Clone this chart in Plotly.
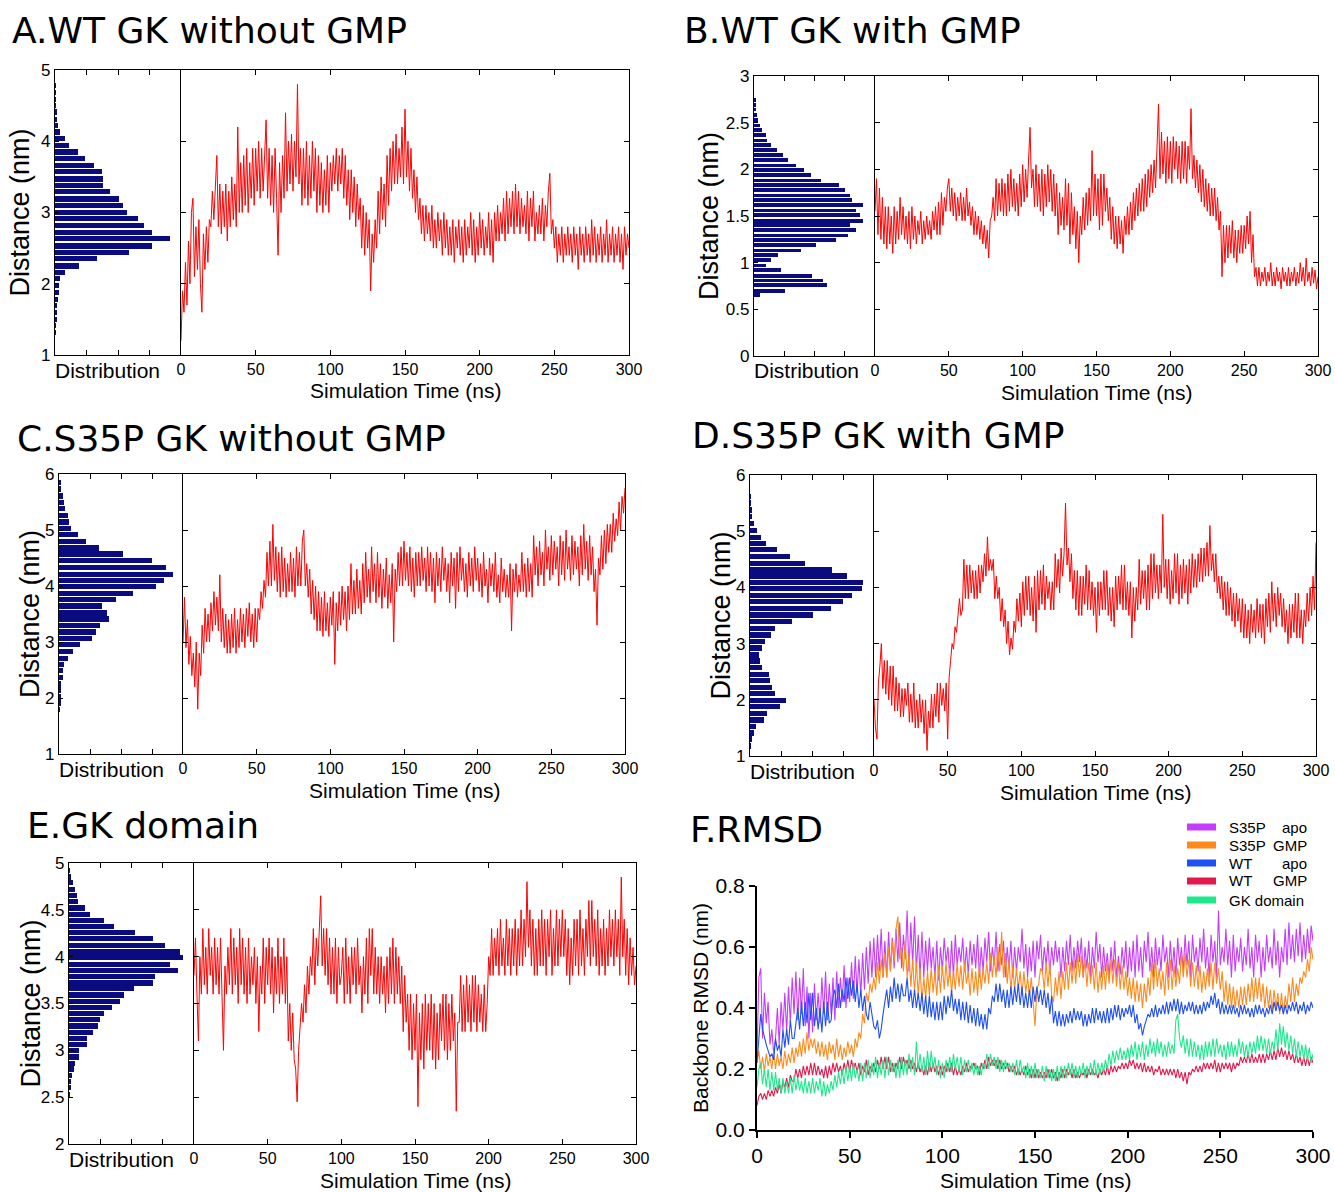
import plotly.graph_objects as go

W, H = 1335, 1192

# ---------------- DATA ----------------
time_ns = list(range(0, 301))          # all traces sampled every 1 ns

# Panel A: WT GK without GMP
a_bins = [4.78, 4.69, 4.59, 4.50, 4.41, 4.31, 4.22, 4.13, 4.04, 3.94, 3.85, 3.76, 3.66, 3.57, 3.47, 3.38,
          3.29, 3.19, 3.10, 3.00, 2.91, 2.82, 2.72, 2.63, 2.53, 2.44, 2.35, 2.25, 2.16, 2.07, 1.97, 1.88,
          1.78, 1.69, 1.60, 1.50, 1.41, 1.32]
a_counts = [0.3, 0.4, 0.5, 0.7, 0.9, 1.5, 2, 4, 8, 11, 18, 24, 31, 37, 38, 38,
            44, 51, 54, 57, 66, 71, 77, 91, 77, 59, 33, 19, 8, 4, 3, 3,
            2, 1.5, 1, 0.8, 0.6, 0.4]
a_dist = [1.2, 1.9, 1.6, 2.3, 1.7, 2.6, 2.0, 3.0, 3.2, 2.1,
          2.8, 2.2, 2.9, 2.0, 1.6, 2.7, 2.2, 2.8, 2.3, 2.9,
          2.8, 3.3, 2.9, 3.5, 3.8, 2.8, 3.4, 2.7, 3.3, 2.8,
          3.4, 2.6, 3.3, 2.8, 3.5, 2.9, 3.4, 2.8, 4.2, 3.0,
          3.7, 3.0, 3.8, 3.1, 3.9, 3.0, 3.7, 3.2, 3.9, 3.1,
          3.9, 3.3, 4.0, 3.2, 3.9, 3.3, 3.8, 4.3, 3.2, 3.9,
          3.1, 3.8, 3.0, 3.9, 3.2, 2.4, 3.7, 3.0, 3.8, 3.2,
          4.4, 3.3, 4.0, 3.4, 4.1, 3.3, 4.0, 3.5, 4.8, 3.4,
          3.9, 3.1, 3.9, 3.2, 4.0, 3.1, 3.8, 3.2, 4.0, 3.3,
          3.9, 3.0, 3.8, 3.1, 3.7, 3.0, 3.6, 3.1, 3.8, 3.0,
          3.7, 3.3, 3.8, 3.4, 3.9, 3.3, 3.8, 3.4, 3.9, 3.2,
          3.8, 3.1, 3.6, 2.9, 3.6, 3.0, 3.5, 2.8, 3.4, 2.9,
          3.2, 2.5, 3.1, 2.4, 3.0, 2.5, 2.9, 1.9, 2.7, 2.3,
          2.9, 2.5, 3.3, 2.7, 3.5, 2.9, 3.4, 2.8, 3.8, 3.1,
          3.9, 3.3, 4.0, 3.4, 4.1, 3.4, 3.9, 3.5, 4.2, 3.4,
          4.45, 3.5, 4.0, 3.3, 3.9, 3.2, 3.6, 3.0, 3.5, 2.9,
          3.2, 2.7, 3.1, 2.6, 3.1, 2.7, 3.0, 2.6, 3.1, 2.5,
          2.9, 2.5, 3.0, 2.6, 2.9, 2.4, 3.0, 2.5, 2.9, 2.4,
          2.8, 2.4, 2.9, 2.3, 2.8, 2.5, 2.9, 2.4, 2.8, 2.3,
          2.9, 2.4, 2.8, 2.5, 3.0, 2.4, 2.9, 2.3, 2.8, 2.4,
          3.0, 2.5, 2.9, 2.4, 2.8, 2.5, 3.0, 2.4, 2.9, 2.3,
          3.0, 2.6, 3.1, 2.6, 3.0, 2.7, 3.2, 2.6, 3.3, 2.7,
          3.2, 2.8, 3.3, 2.7, 3.4, 2.8, 3.3, 2.7, 3.2, 2.8,
          3.1, 2.7, 3.3, 2.6, 3.2, 2.8, 3.3, 2.6, 3.0, 2.7,
          3.1, 2.7, 3.2, 2.6, 3.1, 2.8, 3.3, 3.55, 2.7, 2.9,
          2.5, 2.8, 2.3, 2.7, 2.4, 2.8, 2.3, 2.7, 2.4, 2.8,
          2.4, 2.7, 2.3, 2.8, 2.4, 2.7, 2.2, 2.8, 2.4, 2.7,
          2.3, 2.8, 2.4, 2.7, 2.3, 2.9, 2.4, 2.8, 2.3, 2.7,
          2.4, 2.8, 2.3, 2.7, 2.4, 2.9, 2.3, 2.7, 2.4, 2.8,
          2.3, 2.7, 2.4, 2.8, 2.3, 2.7, 2.2, 2.8, 2.4, 2.7,
          2.5]

# Panel B: WT GK with GMP
b_bins = [2.74, 2.69, 2.64, 2.58, 2.53, 2.47, 2.42, 2.37, 2.31, 2.26, 2.21, 2.15, 2.10, 2.04, 1.99, 1.94,
          1.88, 1.83, 1.78, 1.72, 1.67, 1.62, 1.56, 1.51, 1.45, 1.40, 1.35, 1.29, 1.24, 1.19, 1.13, 1.08,
          1.03, 0.97, 0.92, 0.86, 0.81, 0.76, 0.70, 0.65]
b_counts = [1, 1, 1.5, 2.5, 3.5, 5, 6.5, 10, 11, 14, 19, 24, 28, 35, 41, 47,
            55, 70, 75, 79, 81, 90, 84, 88, 90, 79, 84, 78, 68, 51, 39, 20,
            14, 10, 22, 48, 57, 60, 26, 5]
b_dist = [1.55, 1.9, 1.3, 1.8, 1.25, 1.7, 1.2, 1.6, 1.15, 1.6,
          1.2, 1.5, 1.1, 1.6, 1.2, 1.55, 1.25, 1.7, 1.3, 1.6,
          1.25, 1.5, 1.2, 1.55, 1.15, 1.6, 1.25, 1.5, 1.2, 1.45,
          1.3, 1.55, 1.2, 1.45, 1.25, 1.5, 1.3, 1.45, 1.25, 1.55,
          1.35, 1.6, 1.3, 1.65, 1.3, 1.75, 1.4, 1.7, 1.55, 1.8,
          1.9, 1.55, 1.8, 1.5, 1.75, 1.45, 1.7, 1.5, 1.75, 1.45,
          1.7, 1.45, 1.8, 1.5, 1.65, 1.4, 1.6, 1.3, 1.55, 1.3,
          1.5, 1.25, 1.45, 1.2, 1.4, 1.15, 1.35, 1.05, 1.45, 1.5,
          1.7, 1.45, 1.9, 1.5, 1.85, 1.55, 1.9, 1.5, 1.85, 1.5,
          1.95, 1.55, 2.0, 1.6, 1.9, 1.55, 1.85, 1.5, 1.95, 1.6,
          2.05, 1.65, 2.0, 1.7, 2.1, 2.45, 1.8, 2.0, 1.6, 2.05,
          1.6, 1.95, 1.55, 2.0, 1.5, 1.95, 1.6, 2.05, 1.65, 2.0,
          1.55, 1.95, 1.5, 1.85, 1.3, 1.75, 1.4, 1.7, 1.35, 1.9,
          1.4, 1.85, 1.2, 1.75, 1.3, 1.6, 1.15, 1.55, 1.0, 1.5,
          1.3, 1.7, 1.35, 1.75, 1.4, 1.8, 1.45, 2.2, 1.5, 1.95,
          1.5, 1.9, 1.35, 1.95, 1.4, 1.95, 1.55, 1.8, 1.45, 1.7,
          1.25, 1.6, 1.2, 1.5, 1.15, 1.5, 1.2, 1.45, 1.1, 1.5,
          1.3, 1.6, 1.3, 1.65, 1.35, 1.75, 1.45, 1.8, 1.5, 1.85,
          1.55, 1.9, 1.55, 1.95, 1.6, 2.0, 1.7, 2.05, 1.75, 2.1,
          1.8, 2.2, 2.7, 1.9, 2.4, 1.95, 2.3, 1.85, 2.35, 1.9,
          2.3, 1.85, 2.35, 2.0, 2.3, 1.9, 2.25, 1.85, 2.3, 1.9,
          2.3, 1.85, 2.25, 2.0, 2.65, 1.9, 2.15, 1.8, 2.1, 1.75,
          2.05, 1.65, 2.0, 1.6, 1.9, 1.55, 1.85, 1.5, 1.8, 1.5,
          1.8, 1.45, 1.7, 1.35, 1.55, 0.85, 1.4, 1.0, 1.4, 1.05,
          1.4, 1.1, 1.45, 1.05, 1.35, 1.0, 1.35, 1.1, 1.4, 1.1,
          1.4, 1.15, 1.5, 1.2, 1.55, 1.0, 1.3, 0.85, 0.95, 0.75,
          0.95, 0.75, 0.9, 0.8, 0.95, 0.75, 0.9, 0.8, 1.0, 0.75,
          0.9, 0.75, 0.95, 0.8, 0.9, 0.72, 0.95, 0.8, 0.9, 0.75,
          0.95, 0.75, 0.9, 0.8, 0.95, 0.75, 0.9, 0.78, 1.0, 0.8,
          0.95, 0.75, 1.05, 0.8, 0.9, 0.75, 0.95, 0.78, 0.92, 0.72,
          0.85]

# Panel C: S35P GK without GMP
c_bins = [5.85, 5.73, 5.61, 5.49, 5.38, 5.26, 5.14, 5.03, 4.92, 4.80, 4.68, 4.57, 4.45, 4.33, 4.21, 4.10,
          3.99, 3.87, 3.76, 3.64, 3.52, 3.41, 3.29, 3.18, 3.06, 2.95, 2.83, 2.71, 2.60, 2.49, 2.37, 2.25,
          2.14, 2.02, 1.91, 1.79]
c_counts = [1, 2, 3, 4, 5, 7, 8, 10, 15, 22, 32, 52, 75, 86, 92, 85,
            78, 60, 46, 35, 39, 40, 33, 30, 27, 17, 11, 7, 4, 3, 3, 2,
            2, 1.5, 1, 0.8]
c_dist = [3.0, 3.8, 2.9, 3.4, 2.6, 3.1, 2.4, 2.8, 2.2, 3.0,
          1.8, 2.8, 2.4, 3.3, 2.8, 3.6, 3.0, 3.5, 3.0, 3.7,
          3.2, 3.9, 3.3, 3.8, 3.2, 4.2, 3.0, 3.6, 2.9, 3.5,
          2.8, 3.4, 2.8, 3.5, 2.9, 3.6, 2.8, 3.4, 2.9, 3.6,
          3.0, 3.5, 2.9, 3.6, 3.1, 3.7, 3.0, 3.5, 2.9, 3.6,
          3.0, 3.6, 3.4, 3.9, 3.6, 4.1, 3.8, 4.6, 4.0, 4.8,
          4.0, 5.1, 4.1, 4.7, 3.9, 4.6, 3.8, 4.7, 3.9, 4.5,
          3.8, 4.4, 3.9, 4.6, 3.9, 4.5, 3.8, 4.7, 4.0, 4.6,
          4.0, 4.8, 5.0, 4.0, 4.4, 3.8, 4.3, 3.5, 4.1, 3.4,
          4.0, 3.2, 3.9, 3.2, 3.8, 3.1, 3.9, 3.2, 3.7, 3.1,
          3.8, 3.3, 3.9, 2.6, 3.7, 3.2, 3.9, 3.3, 4.0, 3.4,
          3.9, 3.2, 4.0, 3.4, 4.4, 3.5, 4.1, 3.5, 4.3, 3.6,
          4.1, 3.5, 4.4, 3.7, 4.6, 3.8, 4.3, 3.7, 4.7, 3.9,
          4.4, 3.7, 4.6, 3.8, 4.4, 3.6, 4.3, 3.8, 4.5, 3.6,
          4.2, 3.7, 4.4, 3.0, 4.3, 3.9, 4.6, 4.0, 4.7, 4.0,
          4.8, 4.1, 4.6, 4.0, 4.7, 3.9, 4.5, 3.8, 4.6, 4.0,
          4.6, 4.0, 4.7, 4.1, 4.5, 3.9, 4.7, 4.0, 4.6, 3.9,
          4.5, 3.7, 4.6, 4.0, 4.5, 3.9, 4.7, 4.1, 4.5, 3.9,
          4.4, 3.7, 4.6, 4.0, 4.5, 3.6, 4.6, 3.9, 4.7, 4.1,
          4.5, 3.9, 4.4, 3.8, 4.6, 4.0, 4.5, 3.9, 4.7, 4.1,
          4.5, 3.9, 4.4, 3.8, 4.6, 4.0, 4.3, 3.7, 4.5, 4.0,
          4.4, 3.9, 4.6, 3.8, 4.2, 3.7, 4.5, 3.9, 4.3, 3.8,
          4.2, 3.8, 4.4, 3.2, 4.3, 3.9, 4.4, 3.8, 4.2, 3.9,
          4.6, 3.9, 4.4, 3.8, 4.5, 3.9, 4.4, 3.8, 4.9, 4.2,
          4.7, 4.0, 4.8, 4.2, 4.6, 4.0, 5.0, 4.3, 4.7, 4.1,
          4.9, 4.2, 4.8, 4.3, 4.7, 4.0, 4.9, 4.2, 4.8, 4.1,
          5.0, 4.3, 4.7, 4.1, 4.9, 4.2, 4.8, 4.3, 4.7, 4.0,
          4.9, 4.2, 5.1, 4.3, 4.8, 4.1, 4.9, 4.2, 4.7, 3.9,
          4.3, 3.3, 4.5, 4.2, 4.9, 4.3, 5.0, 4.4, 5.1, 4.6,
          5.1, 4.6, 5.3, 4.8, 5.2, 4.9, 5.5, 5.0, 5.6, 5.3,
          5.75]

# Panel D: S35P GK with GMP
d_bins = [5.62, 5.50, 5.38, 5.26, 5.14, 5.01, 4.89, 4.78, 4.67, 4.55, 4.43, 4.31, 4.20, 4.09, 3.98, 3.86,
          3.75, 3.63, 3.51, 3.39, 3.27, 3.15, 3.04, 2.92, 2.80, 2.69, 2.57, 2.45, 2.34, 2.22, 2.11, 1.99,
          1.88, 1.76, 1.64, 1.53, 1.41, 1.30, 1.18]
d_counts = [0.5, 0.8, 1, 2, 3, 6, 9, 13, 22, 32, 44, 66, 78, 91, 90, 82,
            75, 65, 51, 34, 20, 17, 12, 10, 7, 8, 10, 15, 16, 18, 20, 29,
            24, 14, 11, 5, 3, 1.5, 0.8]
d_dist = [2.0, 1.5, 1.3, 2.3, 2.6, 3.0, 2.2, 2.7, 2.1, 2.7,
          2.0, 2.6, 1.9, 2.6, 1.8, 2.4, 1.8, 2.3, 1.7, 2.2,
          1.7, 2.2, 1.9, 2.3, 1.6, 2.1, 1.6, 2.3, 1.5, 2.0,
          1.5, 2.1, 1.6, 2.0, 1.4, 2.0, 1.1, 1.8, 1.5, 2.1,
          1.5, 2.1, 1.7, 2.3, 1.6, 2.3, 1.9, 2.2, 1.8, 2.3,
          1.3, 2.4, 2.7, 3.0, 2.9, 3.3, 3.2, 3.6, 3.8, 3.5,
          3.6, 4.5, 3.8, 4.4, 3.8, 4.4, 3.9, 4.3, 3.8, 4.3,
          3.8, 4.4, 3.9, 4.4, 4.1, 4.6, 4.2, 4.9, 4.3, 4.5,
          4.3, 4.5, 3.8, 4.2, 3.8, 4.0, 3.4, 3.8, 3.3, 3.6,
          3.0, 3.4, 2.8, 3.1, 2.9, 3.4, 3.2, 3.8, 3.4, 3.9,
          3.3, 4.1, 3.5, 4.2, 3.6, 4.2, 3.5, 4.0, 3.4, 4.2,
          3.2, 4.3, 3.6, 4.3, 3.7, 4.4, 3.6, 4.2, 3.8, 4.1,
          3.6, 4.1, 3.6, 4.6, 4.0, 4.5, 3.9, 4.7, 4.2, 4.6,
          5.5, 4.4, 4.7, 4.1, 4.6, 3.8, 4.3, 3.6, 4.3, 3.5,
          4.2, 3.5, 4.2, 3.7, 4.4, 3.6, 4.3, 3.6, 4.1, 3.5,
          4.0, 3.2, 4.1, 3.5, 4.1, 3.6, 4.3, 3.6, 4.3, 3.5,
          4.0, 3.4, 4.0, 3.3, 4.2, 3.6, 4.2, 3.7, 4.4, 3.6,
          4.4, 3.6, 4.1, 3.5, 4.1, 3.1, 4.0, 3.4, 4.0, 3.6,
          4.5, 3.7, 4.3, 3.8, 4.3, 3.6, 4.4, 3.6, 4.6, 3.8,
          4.6, 3.9, 4.4, 3.8, 4.4, 3.9, 5.3, 4.0, 4.5, 3.8,
          4.5, 3.7, 4.3, 3.8, 4.6, 3.9, 4.6, 3.7, 4.4, 3.8,
          4.5, 3.9, 4.4, 3.7, 4.5, 3.9, 4.6, 4.0, 4.5, 4.0,
          4.6, 4.1, 4.7, 4.1, 4.7, 4.2, 4.8, 4.2, 5.1, 4.3,
          4.6, 4.1, 4.6, 3.9, 4.2, 3.8, 4.2, 3.6, 4.1, 3.5,
          4.1, 3.5, 4.0, 3.4, 3.9, 3.3, 3.9, 3.4, 3.8, 3.2,
          3.8, 3.1, 3.7, 3.1, 3.6, 3.0, 3.7, 3.2, 3.6, 3.1,
          3.8, 3.2, 3.7, 3.1, 3.7, 3.0, 3.8, 3.3, 3.9, 3.2,
          4.1, 3.4, 3.9, 3.3, 4.0, 3.5, 3.9, 3.3, 3.8, 3.2,
          3.6, 3.0, 3.7, 3.1, 3.7, 3.2, 3.9, 3.1, 3.9, 3.1,
          3.6, 3.0, 3.6, 3.3, 3.9, 3.4, 4.0, 3.5, 4.2, 3.6,
          4.8]

# Panel E: GK domain
e_bins = [4.92, 4.85, 4.79, 4.72, 4.65, 4.59, 4.52, 4.45, 4.39, 4.32, 4.26, 4.19, 4.12, 4.05, 3.99, 3.92,
          3.85, 3.79, 3.72, 3.66, 3.59, 3.52, 3.46, 3.39, 3.33, 3.26, 3.19, 3.13, 3.06, 3.00, 2.93, 2.86,
          2.80, 2.73, 2.67, 2.60, 2.53]
e_counts = [0.5, 1, 3, 5, 6, 7, 13, 17, 28, 36, 53, 67, 77, 89, 91, 81,
            87, 69, 67, 52, 44, 41, 34, 28, 25, 23, 19, 14, 14, 8, 8, 5,
            4, 2.5, 1.5, 1, 0.5]
e_dist = [3.8, 4.2, 3.6, 3.1, 4.0, 3.6, 4.3, 3.7, 4.1, 3.6,
          4.3, 3.8, 4.1, 3.6, 4.2, 3.7, 4.1, 3.6, 4.2, 3.7,
          3.0, 3.9, 3.6, 4.1, 3.7, 4.3, 3.6, 4.2, 3.7, 4.1,
          3.5, 4.3, 3.7, 4.2, 3.6, 4.1, 3.5, 4.2, 3.6, 4.0,
          3.7, 4.1, 3.5, 4.0, 3.2, 3.9, 3.6, 4.2, 3.5, 4.1,
          3.7, 4.2, 3.6, 4.1, 3.4, 4.0, 3.6, 4.2, 3.5, 4.0,
          3.6, 4.2, 3.5, 4.0, 3.1, 3.5, 3.0, 3.4, 2.9, 2.8,
          2.45, 3.0, 3.2, 3.5, 3.3, 3.7, 3.4, 3.9, 3.6, 4.0,
          3.8, 4.3, 3.7, 4.2, 3.9, 4.4, 4.65, 3.9, 4.3, 3.8,
          4.3, 3.7, 4.2, 3.6, 4.1, 3.6, 4.2, 3.5, 4.1, 3.7,
          3.8, 4.1, 3.5, 4.2, 3.6, 4.0, 3.5, 4.1, 3.7, 4.1,
          3.6, 4.2, 3.7, 3.9, 3.4, 4.0, 3.6, 4.2, 3.5, 4.3,
          3.8, 4.3, 3.6, 4.1, 3.6, 4.0, 3.5, 4.0, 3.6, 3.9,
          3.4, 4.0, 3.5, 4.1, 3.6, 4.2, 3.5, 4.1, 3.6, 4.0,
          3.5, 3.9, 3.2, 3.8, 3.3, 3.6, 3.0, 3.6, 2.9, 3.5,
          3.0, 3.6, 2.4, 3.4, 2.9, 3.5, 2.8, 3.6, 3.0, 3.5,
          3.0, 3.6, 2.9, 3.5, 2.8, 3.4, 2.9, 3.5, 3.1, 3.6,
          3.0, 3.6, 2.9, 3.5, 3.0, 3.6, 3.1, 3.4, 2.35, 3.3,
          3.3, 3.8, 3.2, 3.7, 3.2, 3.8, 3.3, 3.7, 3.2, 3.8,
          3.3, 3.8, 3.2, 3.7, 3.3, 3.6, 3.2, 3.7, 3.2, 3.5,
          4.0, 3.8, 4.3, 3.8, 4.2, 3.9, 4.3, 3.8, 4.4, 3.9,
          4.2, 3.8, 4.4, 3.9, 4.3, 3.8, 4.3, 3.9, 4.4, 3.8,
          4.3, 3.9, 4.5, 3.9, 4.4, 4.0, 4.8, 4.1, 4.5, 3.9,
          4.4, 3.8, 4.3, 3.8, 4.4, 3.9, 4.5, 3.9, 4.4, 3.8,
          4.4, 4.0, 4.5, 3.8, 4.3, 3.9, 4.5, 3.9, 4.4, 4.0,
          4.5, 4.0, 4.4, 3.8, 4.3, 3.7, 4.2, 3.8, 4.4, 3.9,
          4.4, 3.8, 4.5, 3.9, 4.3, 3.8, 4.4, 4.0, 4.6, 3.9,
          4.6, 4.0, 4.4, 3.9, 4.5, 3.8, 4.3, 3.9, 4.4, 3.8,
          4.3, 3.9, 4.5, 4.0, 4.4, 3.9, 4.5, 4.0, 4.4, 3.8,
          4.85, 4.0, 4.4, 3.8, 4.3, 3.7, 4.2, 3.8, 4.1, 3.7,
          3.9]

# Panel F: backbone RMSD (nm)
rmsd_names = ["S35P apo", "S35P GMP", "WT apo", "WT GMP", "GK domain"]
rmsd_s35p_apo = [0.25, 0.5, 0.53, 0.3, 0.45, 0.35, 0.42, 0.28, 0.33, 0.25,
                 0.3, 0.4, 0.28, 0.42, 0.33, 0.45, 0.32, 0.47, 0.35, 0.5,
                 0.38, 0.52, 0.36, 0.5, 0.38, 0.53, 0.34, 0.47, 0.3, 0.45,
                 0.32, 0.48, 0.36, 0.45, 0.35, 0.5, 0.38, 0.52, 0.36, 0.48,
                 0.38, 0.5, 0.36, 0.52, 0.4, 0.5, 0.42, 0.54, 0.4, 0.5,
                 0.42, 0.55, 0.43, 0.57, 0.45, 0.56, 0.44, 0.58, 0.46, 0.6,
                 0.48, 0.62, 0.5, 0.63, 0.5, 0.64, 0.52, 0.66, 0.5, 0.62,
                 0.5, 0.65, 0.52, 0.63, 0.53, 0.66, 0.55, 0.68, 0.53, 0.64,
                 0.56, 0.72, 0.52, 0.68, 0.54, 0.7, 0.52, 0.64, 0.5, 0.65,
                 0.5, 0.62, 0.52, 0.63, 0.53, 0.6, 0.5, 0.62, 0.49, 0.6,
                 0.52, 0.63, 0.55, 0.6, 0.5, 0.62, 0.5, 0.64, 0.54, 0.6,
                 0.55, 0.63, 0.52, 0.6, 0.51, 0.62, 0.54, 0.61, 0.53, 0.64,
                 0.5, 0.6, 0.52, 0.63, 0.55, 0.65, 0.52, 0.6, 0.54, 0.65,
                 0.52, 0.61, 0.54, 0.62, 0.5, 0.6, 0.53, 0.62, 0.5, 0.6,
                 0.52, 0.6, 0.55, 0.66, 0.53, 0.61, 0.5, 0.6, 0.52, 0.62,
                 0.5, 0.62, 0.56, 0.64, 0.52, 0.6, 0.54, 0.62, 0.51, 0.6,
                 0.54, 0.62, 0.55, 0.6, 0.5, 0.6, 0.52, 0.62, 0.54, 0.64,
                 0.52, 0.6, 0.53, 0.62, 0.55, 0.63, 0.5, 0.6, 0.53, 0.62,
                 0.5, 0.6, 0.53, 0.65, 0.55, 0.61, 0.5, 0.6, 0.52, 0.58,
                 0.5, 0.6, 0.52, 0.62, 0.5, 0.57, 0.51, 0.6, 0.53, 0.62,
                 0.5, 0.6, 0.52, 0.62, 0.5, 0.64, 0.52, 0.6, 0.5, 0.62,
                 0.55, 0.65, 0.52, 0.6, 0.5, 0.63, 0.54, 0.6, 0.52, 0.64,
                 0.55, 0.6, 0.5, 0.62, 0.52, 0.6, 0.5, 0.63, 0.54, 0.6,
                 0.52, 0.64, 0.54, 0.62, 0.5, 0.64, 0.55, 0.6, 0.52, 0.63,
                 0.55, 0.66, 0.53, 0.6, 0.5, 0.64, 0.55, 0.62, 0.5, 0.72,
                 0.54, 0.6, 0.55, 0.66, 0.54, 0.62, 0.5, 0.64, 0.52, 0.6,
                 0.55, 0.63, 0.52, 0.6, 0.54, 0.66, 0.53, 0.6, 0.5, 0.64,
                 0.55, 0.62, 0.5, 0.6, 0.52, 0.64, 0.55, 0.6, 0.53, 0.66,
                 0.54, 0.62, 0.5, 0.6, 0.55, 0.66, 0.54, 0.68, 0.56, 0.64,
                 0.55, 0.66, 0.57, 0.68, 0.55, 0.64, 0.56, 0.66, 0.58, 0.67,
                 0.62]
rmsd_s35p_gmp = [0.22, 0.26, 0.2, 0.24, 0.19, 0.25, 0.21, 0.24, 0.2, 0.26,
                 0.2, 0.25, 0.21, 0.24, 0.2, 0.26, 0.21, 0.25, 0.22, 0.27,
                 0.22, 0.27, 0.24, 0.29, 0.24, 0.3, 0.25, 0.32, 0.26, 0.3,
                 0.27, 0.3, 0.25, 0.29, 0.24, 0.29, 0.24, 0.28, 0.23, 0.29,
                 0.25, 0.28, 0.23, 0.3, 0.24, 0.28, 0.23, 0.27, 0.24, 0.29,
                 0.25, 0.28, 0.24, 0.3, 0.27, 0.32, 0.3, 0.38, 0.35, 0.45,
                 0.42, 0.48, 0.45, 0.5, 0.46, 0.55, 0.48, 0.56, 0.5, 0.58,
                 0.5, 0.6, 0.52, 0.62, 0.55, 0.66, 0.7, 0.56, 0.6, 0.52,
                 0.62, 0.5, 0.58, 0.47, 0.56, 0.45, 0.55, 0.44, 0.53, 0.42,
                 0.5, 0.43, 0.52, 0.44, 0.53, 0.45, 0.52, 0.44, 0.54, 0.45,
                 0.54, 0.46, 0.55, 0.47, 0.53, 0.45, 0.52, 0.46, 0.55, 0.47,
                 0.54, 0.46, 0.55, 0.48, 0.52, 0.44, 0.53, 0.45, 0.52, 0.44,
                 0.54, 0.46, 0.53, 0.48, 0.55, 0.48, 0.58, 0.5, 0.57, 0.5,
                 0.6, 0.52, 0.65, 0.5, 0.58, 0.48, 0.56, 0.45, 0.54, 0.46,
                 0.53, 0.46, 0.52, 0.44, 0.52, 0.45, 0.5, 0.44, 0.5, 0.42,
                 0.34, 0.46, 0.48, 0.53, 0.52, 0.46, 0.55, 0.47, 0.55, 0.44,
                 0.42, 0.5, 0.44, 0.52, 0.43, 0.52, 0.46, 0.55, 0.46, 0.55,
                 0.48, 0.56, 0.48, 0.58, 0.5, 0.57, 0.5, 0.56, 0.47, 0.55,
                 0.48, 0.54, 0.46, 0.55, 0.45, 0.52, 0.46, 0.54, 0.46, 0.55,
                 0.48, 0.56, 0.48, 0.56, 0.47, 0.55, 0.46, 0.54, 0.46, 0.52,
                 0.44, 0.5, 0.43, 0.5, 0.42, 0.49, 0.42, 0.48, 0.4, 0.48,
                 0.42, 0.5, 0.44, 0.55, 0.46, 0.56, 0.47, 0.53, 0.46, 0.52,
                 0.44, 0.55, 0.46, 0.56, 0.46, 0.54, 0.47, 0.53, 0.48, 0.58,
                 0.5, 0.58, 0.5, 0.56, 0.47, 0.55, 0.47, 0.54, 0.46, 0.54,
                 0.45, 0.52, 0.46, 0.53, 0.47, 0.55, 0.46, 0.55, 0.48, 0.53,
                 0.46, 0.52, 0.42, 0.49, 0.41, 0.48, 0.4, 0.47, 0.4, 0.46,
                 0.4, 0.47, 0.41, 0.47, 0.41, 0.48, 0.42, 0.5, 0.42, 0.5,
                 0.43, 0.5, 0.42, 0.48, 0.4, 0.47, 0.4, 0.46, 0.39, 0.46,
                 0.4, 0.45, 0.38, 0.45, 0.38, 0.44, 0.4, 0.48, 0.42, 0.5,
                 0.42, 0.48, 0.44, 0.5, 0.48, 0.52, 0.5, 0.56, 0.52, 0.6,
                 0.56]
rmsd_wt_apo = [0.22, 0.3, 0.38, 0.33, 0.3, 0.28, 0.26, 0.24, 0.25, 0.23,
               0.3, 0.26, 0.28, 0.24, 0.33, 0.27, 0.33, 0.28, 0.36, 0.3,
               0.3, 0.36, 0.4, 0.33, 0.42, 0.34, 0.42, 0.35, 0.45, 0.36,
               0.45, 0.34, 0.4, 0.33, 0.4, 0.32, 0.42, 0.34, 0.42, 0.35,
               0.36, 0.44, 0.46, 0.4, 0.48, 0.4, 0.46, 0.42, 0.5, 0.43,
               0.5, 0.44, 0.49, 0.42, 0.48, 0.4, 0.46, 0.39, 0.44, 0.38,
               0.36, 0.42, 0.38, 0.34, 0.33, 0.36, 0.3, 0.33, 0.38, 0.42,
               0.46, 0.4, 0.47, 0.42, 0.5, 0.43, 0.48, 0.42, 0.48, 0.44,
               0.44, 0.5, 0.42, 0.46, 0.4, 0.46, 0.4, 0.45, 0.39, 0.45,
               0.38, 0.44, 0.37, 0.44, 0.37, 0.42, 0.36, 0.42, 0.36, 0.42,
               0.36, 0.44, 0.38, 0.44, 0.4, 0.46, 0.39, 0.43, 0.38, 0.43,
               0.36, 0.42, 0.36, 0.42, 0.35, 0.41, 0.35, 0.4, 0.34, 0.4,
               0.34, 0.38, 0.33, 0.38, 0.33, 0.4, 0.38, 0.44, 0.42, 0.48,
               0.42, 0.48, 0.42, 0.46, 0.4, 0.46, 0.4, 0.47, 0.41, 0.47,
               0.42, 0.48, 0.41, 0.47, 0.4, 0.45, 0.4, 0.46, 0.4, 0.47,
               0.42, 0.47, 0.42, 0.46, 0.41, 0.46, 0.4, 0.45, 0.38, 0.44,
               0.35, 0.39, 0.34, 0.39, 0.34, 0.38, 0.34, 0.38, 0.35, 0.39,
               0.35, 0.4, 0.36, 0.39, 0.36, 0.39, 0.34, 0.38, 0.34, 0.38,
               0.35, 0.4, 0.35, 0.4, 0.36, 0.39, 0.35, 0.39, 0.35, 0.4,
               0.35, 0.4, 0.36, 0.41, 0.37, 0.41, 0.36, 0.4, 0.37, 0.4,
               0.38, 0.41, 0.37, 0.41, 0.35, 0.38, 0.33, 0.35, 0.31, 0.34,
               0.36, 0.38, 0.37, 0.4, 0.37, 0.41, 0.37, 0.4, 0.38, 0.41,
               0.38, 0.42, 0.38, 0.42, 0.39, 0.43, 0.39, 0.43, 0.38, 0.42,
               0.38, 0.41, 0.39, 0.42, 0.39, 0.42, 0.38, 0.41, 0.38, 0.41,
               0.38, 0.42, 0.39, 0.42, 0.4, 0.44, 0.41, 0.45, 0.4, 0.43,
               0.38, 0.42, 0.38, 0.41, 0.38, 0.41, 0.38, 0.41, 0.38, 0.4,
               0.37, 0.41, 0.38, 0.41, 0.38, 0.4, 0.37, 0.4, 0.37, 0.41,
               0.38, 0.41, 0.38, 0.4, 0.37, 0.4, 0.38, 0.41, 0.38, 0.42,
               0.39, 0.42, 0.39, 0.41, 0.38, 0.41, 0.38, 0.41, 0.39, 0.42,
               0.39, 0.42, 0.38, 0.41, 0.39, 0.42, 0.38, 0.41, 0.39, 0.42,
               0.4]
rmsd_wt_gmp = [0.08, 0.11, 0.12, 0.1, 0.12, 0.1, 0.13, 0.11, 0.13, 0.11,
               0.14, 0.12, 0.15, 0.12, 0.16, 0.14, 0.17, 0.14, 0.18, 0.16,
               0.16, 0.2, 0.17, 0.2, 0.17, 0.21, 0.18, 0.21, 0.18, 0.22,
               0.18, 0.22, 0.18, 0.21, 0.18, 0.2, 0.17, 0.21, 0.17, 0.21,
               0.18, 0.22, 0.19, 0.22, 0.19, 0.21, 0.18, 0.22, 0.19, 0.23,
               0.19, 0.23, 0.2, 0.22, 0.19, 0.22, 0.18, 0.21, 0.19, 0.23,
               0.18, 0.21, 0.19, 0.22, 0.19, 0.23, 0.2, 0.24, 0.2, 0.24,
               0.2, 0.24, 0.19, 0.22, 0.19, 0.22, 0.2, 0.24, 0.2, 0.24,
               0.21, 0.23, 0.2, 0.23, 0.2, 0.22, 0.19, 0.22, 0.19, 0.21,
               0.18, 0.21, 0.18, 0.22, 0.19, 0.22, 0.19, 0.21, 0.18, 0.21,
               0.18, 0.21, 0.19, 0.22, 0.19, 0.22, 0.18, 0.21, 0.18, 0.2,
               0.18, 0.21, 0.19, 0.22, 0.19, 0.21, 0.2, 0.22, 0.2, 0.21,
               0.18, 0.22, 0.2, 0.23, 0.2, 0.24, 0.21, 0.23, 0.21, 0.23,
               0.2, 0.23, 0.2, 0.22, 0.2, 0.22, 0.19, 0.21, 0.19, 0.21,
               0.18, 0.2, 0.18, 0.2, 0.18, 0.21, 0.18, 0.2, 0.17, 0.2,
               0.17, 0.2, 0.17, 0.19, 0.17, 0.19, 0.17, 0.2, 0.17, 0.2,
               0.17, 0.19, 0.16, 0.19, 0.17, 0.2, 0.17, 0.2, 0.18, 0.2,
               0.17, 0.2, 0.17, 0.19, 0.17, 0.19, 0.18, 0.2, 0.17, 0.2,
               0.18, 0.2, 0.18, 0.19, 0.17, 0.2, 0.18, 0.2, 0.18, 0.21,
               0.18, 0.21, 0.19, 0.21, 0.19, 0.21, 0.2, 0.22, 0.2, 0.22,
               0.2, 0.23, 0.21, 0.23, 0.2, 0.22, 0.2, 0.22, 0.19, 0.22,
               0.19, 0.21, 0.19, 0.21, 0.18, 0.2, 0.19, 0.21, 0.18, 0.2,
               0.18, 0.2, 0.18, 0.2, 0.18, 0.2, 0.17, 0.2, 0.17, 0.19,
               0.16, 0.19, 0.15, 0.19, 0.18, 0.2, 0.19, 0.21, 0.19, 0.21,
               0.19, 0.22, 0.2, 0.22, 0.2, 0.22, 0.2, 0.23, 0.19, 0.22,
               0.19, 0.22, 0.2, 0.22, 0.2, 0.22, 0.19, 0.22, 0.2, 0.22,
               0.21, 0.24, 0.22, 0.24, 0.22, 0.25, 0.22, 0.25, 0.22, 0.24,
               0.22, 0.25, 0.22, 0.25, 0.22, 0.25, 0.23, 0.26, 0.23, 0.26,
               0.23, 0.27, 0.24, 0.27, 0.24, 0.26, 0.23, 0.26, 0.23, 0.25,
               0.22, 0.25, 0.22, 0.24, 0.21, 0.24, 0.21, 0.24, 0.21, 0.24,
               0.22]
rmsd_gk = [0.14, 0.2, 0.22, 0.15, 0.2, 0.14, 0.2, 0.13, 0.19, 0.13,
           0.19, 0.13, 0.17, 0.12, 0.17, 0.12, 0.16, 0.12, 0.17, 0.12,
           0.18, 0.13, 0.17, 0.13, 0.16, 0.12, 0.17, 0.12, 0.16, 0.12,
           0.17, 0.12, 0.16, 0.13, 0.17, 0.11, 0.16, 0.11, 0.15, 0.12,
           0.16, 0.13, 0.18, 0.14, 0.19, 0.15, 0.2, 0.15, 0.21, 0.16,
           0.21, 0.16, 0.22, 0.17, 0.2, 0.16, 0.22, 0.16, 0.22, 0.17,
           0.23, 0.17, 0.22, 0.18, 0.24, 0.17, 0.22, 0.18, 0.23, 0.17,
           0.24, 0.18, 0.23, 0.19, 0.22, 0.17, 0.23, 0.17, 0.24, 0.18,
           0.23, 0.18, 0.25, 0.19, 0.24, 0.18, 0.29, 0.2, 0.25, 0.19,
           0.24, 0.18, 0.26, 0.19, 0.26, 0.2, 0.24, 0.18, 0.23, 0.17,
           0.22, 0.17, 0.23, 0.19, 0.24, 0.19, 0.25, 0.2, 0.24, 0.19,
           0.24, 0.18, 0.23, 0.19, 0.23, 0.19, 0.22, 0.18, 0.22, 0.18,
           0.21, 0.18, 0.22, 0.2, 0.25, 0.2, 0.25, 0.21, 0.24, 0.2,
           0.24, 0.19, 0.23, 0.19, 0.23, 0.2, 0.22, 0.19, 0.22, 0.18,
           0.23, 0.18, 0.23, 0.19, 0.21, 0.17, 0.22, 0.17, 0.21, 0.17,
           0.22, 0.17, 0.2, 0.17, 0.21, 0.16, 0.21, 0.17, 0.2, 0.16,
           0.2, 0.16, 0.21, 0.16, 0.21, 0.17, 0.21, 0.17, 0.22, 0.18,
           0.22, 0.17, 0.21, 0.17, 0.21, 0.18, 0.22, 0.17, 0.21, 0.18,
           0.22, 0.18, 0.23, 0.18, 0.22, 0.18, 0.22, 0.19, 0.23, 0.2,
           0.25, 0.21, 0.26, 0.22, 0.26, 0.23, 0.27, 0.23, 0.26, 0.23,
           0.27, 0.23, 0.28, 0.24, 0.29, 0.23, 0.28, 0.24, 0.29, 0.23,
           0.28, 0.24, 0.3, 0.25, 0.29, 0.24, 0.3, 0.25, 0.29, 0.24,
           0.28, 0.24, 0.29, 0.25, 0.28, 0.25, 0.36, 0.38, 0.3, 0.27,
           0.31, 0.25, 0.3, 0.24, 0.3, 0.24, 0.29, 0.24, 0.28, 0.23,
           0.28, 0.23, 0.29, 0.24, 0.29, 0.24, 0.3, 0.24, 0.3, 0.25,
           0.28, 0.24, 0.28, 0.23, 0.29, 0.24, 0.29, 0.24, 0.28, 0.24,
           0.3, 0.25, 0.29, 0.24, 0.28, 0.24, 0.29, 0.25, 0.29, 0.25,
           0.31, 0.26, 0.31, 0.26, 0.3, 0.25, 0.3, 0.25, 0.29, 0.26,
           0.33, 0.26, 0.35, 0.28, 0.34, 0.27, 0.32, 0.26, 0.31, 0.25,
           0.3, 0.24, 0.29, 0.24, 0.28, 0.23, 0.28, 0.23, 0.27, 0.22,
           0.25]

# ---------------- STYLE / GEOMETRY ----------------
NAVY = "#0b0b80"
RED = "#ff0000"
RMSD_COLORS = ["#c43cff", "#ff8a1c", "#1f4ff5", "#e3194d", "#1fe88c"]
SANS = "Liberation Sans, Arial, sans-serif"
NARROW = "Liberation Sans Narrow, Arial Narrow, Liberation Sans, sans-serif"
TITLEF = "DejaVu Sans, Verdana, sans-serif"


def fx(p):
    return p / W


def fy(p):
    return 1 - p / H


panels = [
    dict(title="A.WT GK without GMP", tx=10, ty=31, hx0=55, hx1=181, tx1=629, top=70, bot=355,
         yr=[1, 5], dt=1, bins=a_bins, counts=a_counts, series=a_dist, labx=20),
    dict(title="B.WT GK with GMP", tx=682, ty=30, hx0=754, hx1=875, tx1=1318, top=76, bot=356,
         yr=[0, 3], dt=0.5, bins=b_bins, counts=b_counts, series=b_dist, labx=709),
    dict(title="C.S35P GK without GMP", tx=15, ty=438, hx0=59, hx1=183, tx1=625, top=474, bot=754,
         yr=[1, 6], dt=1, bins=c_bins, counts=c_counts, series=c_dist, labx=30),
    dict(title="D.S35P GK with GMP", tx=690, ty=435, hx0=750, hx1=874, tx1=1316, top=475, bot=756,
         yr=[1, 6], dt=1, bins=d_bins, counts=d_counts, series=d_dist, labx=720),
    dict(title="E.GK domain", tx=25, ty=825, hx0=69, hx1=194, tx1=636, top=863, bot=1144,
         yr=[2, 5], dt=0.5, bins=e_bins, counts=e_counts, series=e_dist, labx=30),
]

fig = go.Figure()
layout = {}
annotations = []
shapes = []


def axname(n):
    return "" if n == 1 else str(n)


for i, p in enumerate(panels):
    h = 2 * i + 1
    t = 2 * i + 2
    ydom = [fy(p["bot"]), fy(p["top"])]
    spacing = abs(p["bins"][0] - p["bins"][1])
    fig.add_trace(go.Bar(x=p["counts"], y=p["bins"], orientation="h", width=spacing * 0.8,
                         marker=dict(color=NAVY, line=dict(width=0)),
                         xaxis="x" + axname(h), yaxis="y" + axname(h), showlegend=False))
    fig.add_trace(go.Scatter(x=time_ns, y=p["series"], mode="lines",
                             line=dict(color=RED, width=1.0),
                             xaxis="x" + axname(t), yaxis="y" + axname(t), showlegend=False))
    common = dict(showline=True, linecolor="black", linewidth=1.3, showgrid=False, zeroline=False,
                  tickcolor="black", tickwidth=1, automargin=False)
    layout["xaxis" + axname(h)] = dict(common, domain=[fx(p["hx0"]), fx(p["hx1"])], anchor="y" + axname(h),
                                       range=[0, 100], tickvals=[25, 50, 75], ticks="inside", ticklen=5,
                                       mirror="ticks", showticklabels=False)
    layout["yaxis" + axname(h)] = dict(common, domain=ydom, anchor="x" + axname(h), range=p["yr"],
                                       dtick=p["dt"], tick0=0, ticks="inside", ticklen=4, mirror=False,
                                       tickfont=dict(family=NARROW, size=17, color="black"))
    layout["xaxis" + axname(t)] = dict(common, domain=[fx(p["hx1"]), fx(p["tx1"])], anchor="y" + axname(t),
                                       range=[0, 300], dtick=50, ticks="inside", ticklen=5, mirror="ticks",
                                       tickfont=dict(family=SANS, size=16, color="black"))
    layout["yaxis" + axname(t)] = dict(common, domain=ydom, anchor="x" + axname(t), range=p["yr"],
                                       dtick=p["dt"], tick0=0, ticks="inside", ticklen=5, mirror="ticks",
                                       showticklabels=False)
    annotations.append(dict(text=p["title"], xref="paper", yref="paper", x=fx(p["tx"]), y=fy(p["ty"]),
                            xanchor="left", yanchor="middle", showarrow=False,
                            font=dict(family=TITLEF, size=36, color="black")))
    annotations.append(dict(text="Distribution", xref="paper", yref="paper", x=fx(p["hx0"] - 2),
                            y=fy(p["bot"] + 15), xanchor="left", yanchor="middle", showarrow=False,
                            font=dict(family=SANS, size=21, color="black")))
    annotations.append(dict(text="Simulation Time (ns)", xref="paper", yref="paper",
                            x=fx((p["hx1"] + p["tx1"]) / 2), y=fy(p["bot"] + 36),
                            xanchor="center", yanchor="middle", showarrow=False,
                            font=dict(family=SANS, size=21, color="black")))
    annotations.append(dict(text="Distance (nm)", xref="paper", yref="paper", x=fx(p["labx"]),
                            y=fy((p["top"] + p["bot"]) / 2), xanchor="center", yanchor="middle",
                            textangle=-90, showarrow=False,
                            font=dict(family=SANS, size=27, color="black")))

# ---- Panel F ----
fx0, fx1, ftop, fbot = 757, 1313, 886, 1130
rmsd_series = [rmsd_s35p_apo, rmsd_s35p_gmp, rmsd_wt_apo, rmsd_wt_gmp, rmsd_gk]
for name, ser, col in zip(rmsd_names, rmsd_series, RMSD_COLORS):
    fig.add_trace(go.Scatter(x=time_ns, y=ser, mode="lines", name=name, line=dict(color=col, width=1.1),
                             xaxis="x11", yaxis="y11", showlegend=False))

layout["xaxis11"] = dict(domain=[fx(fx0), fx(fx1)], anchor="y11", range=[0, 300], dtick=50,
                         showline=True, linecolor="black", linewidth=2, ticks="outside", ticklen=6,
                         tickwidth=1.5, tickcolor="black", showgrid=False, zeroline=False, automargin=False,
                         tickfont=dict(family=SANS, size=21, color="black"))
layout["yaxis11"] = dict(domain=[fy(fbot), fy(ftop)], anchor="x11", range=[0, 0.8], dtick=0.2,
                         tickformat=".1f", showline=True, linecolor="black", linewidth=2, ticks="outside",
                         ticklen=6, tickwidth=1.5, tickcolor="black", showgrid=False, zeroline=False,
                         automargin=False, tickfont=dict(family=SANS, size=21, color="black"))
annotations.append(dict(text="F.RMSD", xref="paper", yref="paper", x=fx(688), y=fy(829),
                        xanchor="left", yanchor="middle", showarrow=False,
                        font=dict(family=TITLEF, size=36, color="black")))
annotations.append(dict(text="Simulation Time (ns)", xref="paper", yref="paper", x=fx((fx0 + fx1) / 2),
                        y=fy(1180), xanchor="center", yanchor="middle", showarrow=False,
                        font=dict(family=SANS, size=21, color="black")))
annotations.append(dict(text="Backbone RMSD (nm)", xref="paper", yref="paper", x=fx(700),
                        y=fy((ftop + fbot) / 2), xanchor="center", yanchor="middle", textangle=-90,
                        showarrow=False, font=dict(family=SANS, size=21, color="black")))

# legend (manual, as in the reference)
leg_rows = [827, 845, 863, 881, 900]
leg_left = ["S35P", "S35P", "WT", "WT", "GK domain"]
leg_right = ["apo", "GMP", "apo", "GMP", ""]
for yy, col, lt, rt in zip(leg_rows, RMSD_COLORS, leg_left, leg_right):
    shapes.append(dict(type="line", xref="paper", yref="paper", x0=fx(1187), x1=fx(1216), y0=fy(yy), y1=fy(yy),
                       line=dict(color=col, width=7)))
    annotations.append(dict(text=lt, xref="paper", yref="paper", x=fx(1227), y=fy(yy), xanchor="left",
                            yanchor="middle", showarrow=False, font=dict(family=SANS, size=15, color="black")))
    if rt:
        annotations.append(dict(text=rt, xref="paper", yref="paper", x=fx(1309), y=fy(yy), xanchor="right",
                                yanchor="middle", showarrow=False,
                                font=dict(family=SANS, size=15, color="black")))

fig.update_layout(width=W, height=H, margin=dict(l=0, r=0, t=0, b=0, pad=0, autoexpand=False),
                  paper_bgcolor="white", plot_bgcolor="white", showlegend=False,
                  annotations=annotations, shapes=shapes, bargap=0, **layout)

fig.write_html("out.html", config={"displayModeBar": False},
               post_script="document.body.style.margin='0';document.body.style.padding='0';"
                           "document.body.style.overflow='hidden';"
                           "document.documentElement.style.overflow='hidden';")
